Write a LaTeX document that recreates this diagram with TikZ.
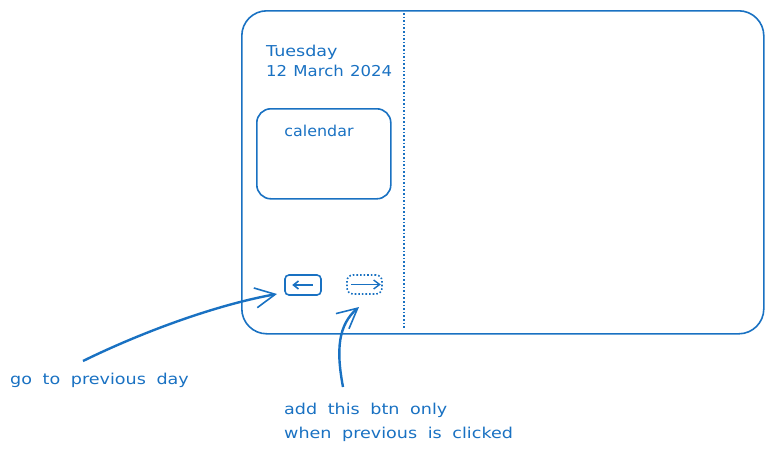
\documentclass[tikz,border=0pt]{standalone}
\usepackage{fontspec}
\setmainfont{DejaVu Sans}[FakeStretch=1.17,WordSpace=1.9]
\newfontfamily\datefont{DejaVu Sans}[FakeStretch=1.1,WordSpace=1.2]
\newfontfamily\calfont{DejaVu Sans}[FakeStretch=1.06]
\usetikzlibrary{arrows.meta}
\definecolor{ink}{HTML}{1971C2}
\begin{document}
\begin{tikzpicture}[x=1pt,y=-1pt,
  ink/.style={draw=ink,line width=1.6pt},
  lbl/.style={text=ink,font=\fontsize{15}{17}\selectfont,inner sep=0pt,anchor=base west},
  btn/.style={ink,rounded corners=4pt,minimum width=36pt,minimum height=20pt,inner sep=0pt},
  callout/.style={draw=ink,line width=2.4pt,-{Straight Barb[length=20pt,width=20pt,line width=1.6pt]}}]
\useasboundingbox (0,0) rectangle (771,455);
% main frame
\node[ink,rounded corners=25pt,minimum width=522pt,minimum height=323pt,anchor=north west,inner sep=0pt] (frame) at (241,10) {};
% divider
\coordinate (divtop) at (404,13);
\coordinate (divbot) at (404,329);
\draw[draw=ink,line width=1.6pt,dotted] (divtop) -- (divbot);
% date
\node[lbl] (day) at (266,56) {Tuesday};
\node[lbl,font=\fontsize{15}{17}\datefont] (date) at (266,76) {12 March 2024};
% calendar
\node[ink,rounded corners=14pt,minimum width=134pt,minimum height=90pt,anchor=north west,inner sep=0pt] (cal) at (256,108) {};
\node[lbl,anchor=base,font=\fontsize{15}{17}\calfont] (calt) at (319,136) {calendar};
% buttons
\node[btn,minimum width=36pt] (prev) at (303,285) {};
\node[btn,dotted,minimum width=35pt,minimum height=19pt,rounded corners=6pt] (next) at (364.5,284.5) {};
\draw[draw=ink,line width=1.8pt,-{Straight Barb[length=5pt,width=8pt,line width=1.6pt]}] ([xshift=-9pt]prev.east) -- ([xshift=8pt]prev.west);
\draw[draw=ink,line width=1.6pt,-{Straight Barb[length=6pt,width=9pt,line width=1.4pt]}] ([xshift=5pt]next.west) -- ([xshift=-2pt]next.east);
% annotations
\node[lbl] (goprev) at (10,384) {go to previous day};
\node[lbl] (add1) at (284,414) {add this btn only};
\node[lbl] (add2) at (284,438) {when previous is clicked};
\coordinate (a1s) at (83,361);
\coordinate (a1e) at (277,294);
\draw[callout] (a1s) .. controls (140,333) and (215,305) .. (a1e);
\coordinate (a2s) at (343,387);
\coordinate (a2e) at (359,307);
\draw[callout] (a2s) .. controls (336,350) and (338,325) .. (a2e);
\end{tikzpicture}
\end{document}
